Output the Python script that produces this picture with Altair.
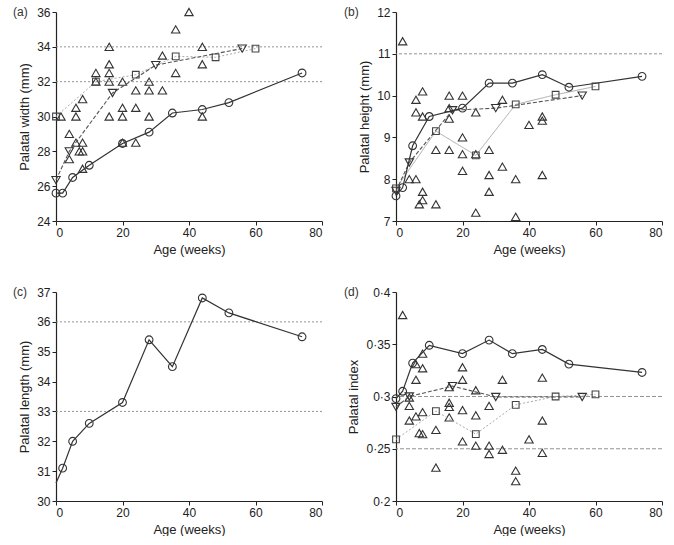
import altair as alt
import pandas as pd

# ---------------- data ----------------
# Panel (a) palatal width
a_circ_x = [0, 2, 5, 10, 20, 28, 35, 44, 52, 74]
a_circ_y = [25.6, 25.6, 26.5, 27.2, 28.45, 29.1, 30.2, 30.4, 30.8, 32.5]
a_down_x = [0, 4, 17, 30, 56]
a_down_y = [26.35, 28.0, 31.35, 32.95, 33.9]
a_sq_x = [0, 12, 24, 36, 48, 60]
a_sq_y = [30.0, 32.0, 32.4, 33.45, 33.4, 33.9]
a_tri_x = [1.5, 4, 4, 6, 6, 6, 7, 8, 8, 8, 8, 12, 12, 16, 16, 16, 16, 16, 20, 20, 20, 20,
           24, 24, 24, 28, 28, 28, 32, 32, 36, 36, 40, 44, 44, 44]
a_tri_y = [30.0, 29.0, 27.55, 30.5, 30.0, 28.5, 28.0, 31.0, 28.5, 28.0, 27.0, 32.5, 32.0,
           34.0, 33.0, 32.5, 32.0, 30.0, 32.0, 30.5, 30.0, 28.5, 31.5, 30.5, 28.5,
           32.0, 31.5, 30.0, 33.5, 31.5, 35.0, 32.5, 36.0, 34.0, 33.0, 30.0]
a_refs = [34, 32]

# Panel (b) palatal height
b_circ_x = [0, 2, 5, 10, 20, 28, 35, 44, 52, 74]
b_circ_y = [7.6, 7.8, 8.8, 9.5, 9.7, 10.3, 10.3, 10.5, 10.2, 10.46]
b_down_x = [0, 4, 17, 30, 56]
b_down_y = [7.72, 8.4, 9.65, 9.7, 10.0]
b_sq_x = [0, 12, 24, 36, 48, 60]
b_sq_y = [7.78, 9.15, 8.57, 9.79, 10.02, 10.22]
b_tri_x = [2, 4, 6, 6, 6, 7, 8, 8, 8, 8, 12, 12, 16, 16, 16, 16, 20, 20, 20, 20,
           24, 24, 24, 28, 28, 28, 32, 32, 36, 36, 40, 44, 44, 44]
b_tri_y = [11.3, 8.0, 9.9, 9.6, 8.0, 7.4, 10.1, 9.5, 7.7, 7.5, 8.7, 7.4, 10.0, 9.7, 9.45, 8.7,
           10.0, 9.0, 8.6, 8.2, 9.6, 8.6, 7.2, 8.7, 8.1, 7.7, 9.9, 8.3, 8.0, 7.1, 9.3,
           9.5, 9.4, 8.1]
b_refs = [11]

# Panel (c) palatal length
c_line_x = [0, 2, 5, 10, 20, 28, 35, 44, 52, 74]
c_line_y = [30.6, 31.1, 32.0, 32.6, 33.3, 35.4, 34.5, 36.8, 36.3, 35.5]
c_marker = [False, True, True, True, True, True, True, True, True, True]
c_refs = [36, 33]

# Panel (d) palatal index
d_circ_x = [0, 2, 5, 10, 20, 28, 35, 44, 52, 74]
d_circ_y = [0.298, 0.305, 0.332, 0.349, 0.341, 0.354, 0.341, 0.345, 0.331, 0.323]
d_down_x = [0, 4, 17, 30, 56]
d_down_y = [0.290, 0.300, 0.310, 0.2995, 0.2995]
d_sq_x = [0, 12, 24, 36, 48, 60]
d_sq_y = [0.259, 0.286, 0.264, 0.292, 0.300, 0.302]
d_tri_x = [2, 4, 4, 4, 6, 6, 6, 7, 8, 8, 8, 8, 12, 12, 16, 16, 16, 16, 20, 20, 20, 20,
           24, 24, 24, 28, 28, 28, 32, 32, 36, 36, 40, 44, 44, 44]
d_tri_y = [0.378, 0.299, 0.291, 0.277, 0.331, 0.316, 0.281, 0.265, 0.341, 0.327, 0.285, 0.264,
           0.268, 0.232, 0.309, 0.294, 0.290, 0.280, 0.328, 0.316, 0.287, 0.257,
           0.306, 0.282, 0.253, 0.291, 0.253, 0.245, 0.316, 0.249, 0.229, 0.219, 0.259,
           0.318, 0.277, 0.246]
d_refs = [0.3, 0.25]

x_ticks = [0, 20, 40, 60, 80]

W, H = 266, 209
DARK = "#333333"
FONT = "Liberation Sans"


def xy(xs, ys):
    return pd.DataFrame({"x": xs, "y": ys})


def panel(label, ytitle, ydom, yticks, refs, ref_dash, circ, down=None, sq=None, tri=None,
          sq_dash=(2, 2), label_dx=-44, ylabel_expr=None):
    xenc = alt.X("x:Q", scale=alt.Scale(domain=[0, 80], nice=False),
                 axis=alt.Axis(values=x_ticks, title="Age (weeks)", labelOverlap=False))
    yaxis_kw = dict(values=yticks, title=ytitle, labelOverlap=False)
    if ylabel_expr:
        yaxis_kw["labelExpr"] = ylabel_expr
    yenc = alt.Y("y:Q", scale=alt.Scale(domain=ydom, nice=False, zero=False),
                 axis=alt.Axis(**yaxis_kw))

    layers = []
    refs_df = pd.DataFrame({"y": refs})
    layers.append(alt.Chart(refs_df).mark_rule(color="#888888", strokeWidth=0.9,
                                               strokeDash=list(ref_dash)).encode(y=yenc))
    if tri is not None:
        layers.append(alt.Chart(tri).mark_point(shape="triangle-up", filled=False, color=DARK,
                                                size=70, strokeWidth=1.1, opacity=1)
                      .encode(x=xenc, y=yenc))
    if sq is not None:
        layers.append(alt.Chart(sq).mark_line(color="#aaaaaa", strokeWidth=1,
                                              strokeDash=list(sq_dash)).encode(x=xenc, y=yenc))
    if down is not None:
        layers.append(alt.Chart(down).mark_line(color="#555555", strokeWidth=1.1,
                                                strokeDash=[4, 2]).encode(x=xenc, y=yenc))
    layers.append(alt.Chart(circ).mark_line(color=DARK, strokeWidth=1.2).encode(x=xenc, y=yenc))
    if sq is not None:
        layers.append(alt.Chart(sq).mark_point(shape="square", filled=False, color="#444444",
                                               size=45, strokeWidth=1.1, opacity=1)
                      .encode(x=xenc, y=yenc))
    if down is not None:
        layers.append(alt.Chart(down).mark_point(shape="triangle-down", filled=False, color=DARK,
                                                 size=70, strokeWidth=1.1, opacity=1)
                      .encode(x=xenc, y=yenc))
    circ_pts = circ[circ["m"]] if "m" in circ.columns else circ
    layers.append(alt.Chart(circ_pts).mark_point(shape="circle", filled=False, color=DARK,
                                                 size=60, strokeWidth=1.1, opacity=1)
                  .encode(x=xenc, y=yenc))
    layers.append(alt.Chart(pd.DataFrame({"t": [label]})).mark_text(
        align="left", baseline="middle", font=FONT, fontSize=12, color=DARK)
        .encode(text="t:N", x=alt.value(label_dx), y=alt.value(0)))
    return alt.layer(*layers).properties(width=W, height=H)


c_df = xy(c_line_x, c_line_y)
c_df["m"] = c_marker

pa = panel("(a)", "Palatal width (mm)", [24, 36], [24, 26, 28, 30, 32, 34, 36], a_refs, (2, 2),
           xy(a_circ_x, a_circ_y), xy(a_down_x, a_down_y), xy(a_sq_x, a_sq_y), xy(a_tri_x, a_tri_y),
           sq_dash=(2, 2), label_dx=-43)
pb = panel("(b)", "Palatal height (mm)", [7, 12], [7, 8, 9, 10, 11, 12], b_refs, (3, 2),
           xy(b_circ_x, b_circ_y), xy(b_down_x, b_down_y), xy(b_sq_x, b_sq_y), xy(b_tri_x, b_tri_y),
           sq_dash=(1, 0), label_dx=-52)
pc = panel("(c)", "Palatal length (mm)", [30, 37], [30, 31, 32, 33, 34, 35, 36, 37], c_refs, (2, 2),
           c_df, label_dx=-43)
pd_ = panel("(d)", "Palatal index", [0.2, 0.4], [0.2, 0.25, 0.3, 0.35, 0.4], d_refs, (4, 2),
            xy(d_circ_x, d_circ_y), xy(d_down_x, d_down_y), xy(d_sq_x, d_sq_y), xy(d_tri_x, d_tri_y),
            sq_dash=(2, 2), label_dx=-52,
            ylabel_expr="replace(format(datum.value, '~g'), '.', '·')")

chart = alt.vconcat(
    alt.hconcat(pa, pb, spacing=21),
    alt.hconcat(pc, pd_, spacing=21),
    spacing=30,
).properties(padding={"left": 13, "top": 6, "right": 0, "bottom": 0}).configure_view(
    stroke=None
).configure_axis(
    grid=False, domainColor="#222222", tickColor="#222222", tickSize=4, domainWidth=1.2,
    labelFont=FONT, titleFont=FONT, labelFontSize=12, titleFontSize=13,
    labelColor="#222222", titleColor="#222222", titleFontWeight="normal", labelPadding=2,
    titlePadding=5
)

chart.save("out.html", embed_options={"renderer": "svg", "actions": False})
